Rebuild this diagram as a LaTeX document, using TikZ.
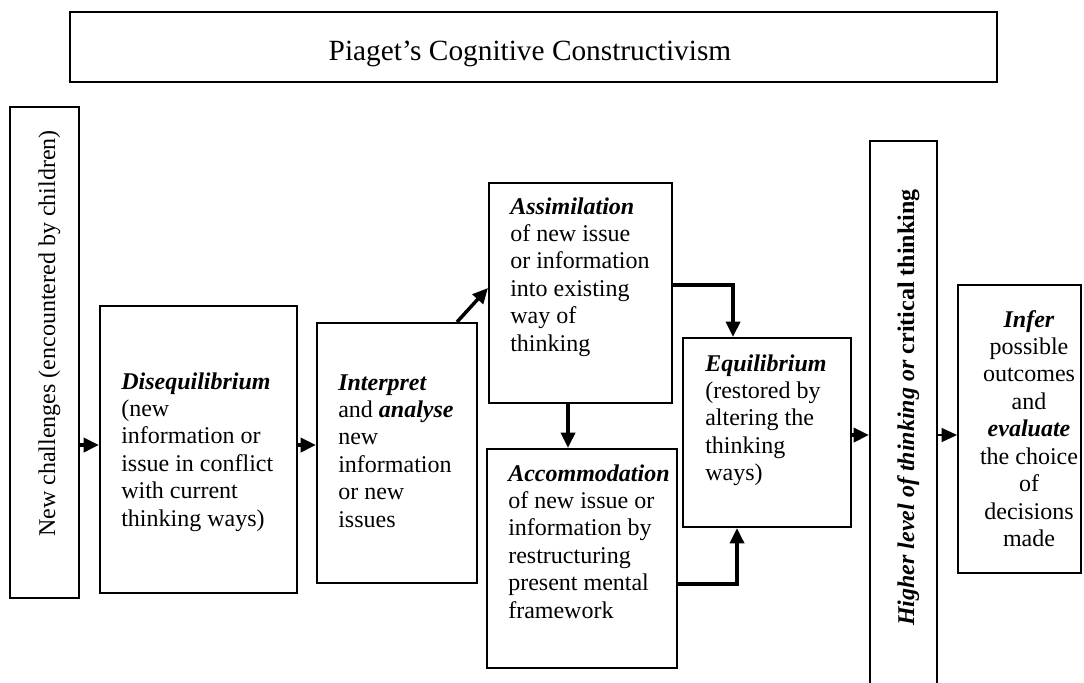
\documentclass[tikz,border=0pt]{standalone}
\usepackage{fontspec}
\setmainfont{Liberation Serif}
\usetikzlibrary{arrows.meta,fit}

% stacked lines of text; the baseline of the block is that of its first line
\newcommand{\stackedlines}[2][l]{\begin{tabular}[t]{@{}#1@{}}#2\end{tabular}}
\newcommand{\keyword}[1]{\textbf{\textit{#1}}}

\begin{document}
\begin{tikzpicture}[x=0.75pt,y=-0.75pt,
  box/.style={draw, line width=1.5pt, inner sep=0pt},
  conn/.style={line width=2.6pt, -{Triangle[length=11.5pt,width=10.5pt]}},
  thinconn/.style={line width=1pt, -{Triangle[length=11.5pt,width=10.5pt]}},
  body/.style={inner sep=0pt, anchor=base west, font=\fontsize{18}{20.6}\selectfont},
  bodyc/.style={body, anchor=base},
]
\useasboundingbox (0,0) rectangle (1084,682);

% title
\node[box, fit={(70,12) (997,82)}] (title) {};
\node[inner sep=0pt, anchor=base, font=\fontsize{22}{26}\selectfont] (titletext) at (530,60) {Piaget’s Cognitive Constructivism};

% boxes
\node[box, fit={(10,107) (79,598)}] (newc) {};
\node[box, fit={(100,306) (297,593)}] (dis) {};
\node[box, fit={(317,323) (477,583)}] (inter) {};
\node[box, fit={(489,183) (672,403)}] (assim) {};
\node[box, fit={(487,449) (677,668)}] (accom) {};
\node[box, fit={(683,338) (851,527)}] (equi) {};
\node[box, fit={(870,141) (937,690)}] (higher) {};
\node[box, fit={(958,285) (1081,573)}] (infer) {};

% texts
\node[body, rotate=90] (newctext) at (55,537) {New challenges (encountered by children)};
\node[body] (distext) at (121,389) {\stackedlines{\keyword{Disequilibrium}\\ (new\\ information or\\ issue in conflict\\ with current\\ thinking ways)}};
\node[body] (intertext) at (338,390) {\stackedlines{\keyword{Interpret}\\ and \keyword{analyse}\\ new\\ information\\ or new\\ issues}};
\node[body] (assimtext) at (510,214) {\stackedlines{\keyword{Assimilation}\\ of new issue\\ or information\\ into existing\\ way of\\ thinking}};
\node[body] (accomtext) at (508,481) {\stackedlines{\keyword{Accommodation}\\ of new issue or\\ information by\\ restructuring\\ present mental\\ framework}};
\node[body] (equitext) at (705,371) {\stackedlines{\keyword{Equilibrium}\\ (restored by\\ altering the\\ thinking\\ ways)}};
\node[body, rotate=90] (highertext) at (914,626) {\keyword{Higher level of thinking or} \textbf{critical thinking}};
\node[bodyc] (infertext) at (1029,327) {\stackedlines[c]{\keyword{Infer}\\ possible\\ outcomes\\ and\\ \keyword{evaluate}\\ the choice\\ of\\ decisions\\ made}};

% connectors
\draw[conn] (newc.east |- 0,445) -- (dis.west |- 0,445);
\draw[conn] (dis.east |- 0,445) -- (inter.west |- 0,445);
\draw[conn] (457,0 |- inter.north) -- (assim.west |- 0,288);
\draw[conn] (568,0 |- assim.south) -- (568,0 |- accom.north);
\draw[conn] (assim.east |- 0,285) -| (733,0 |- equi.north);
\draw[conn] (accom.east |- 0,584) -| (737,0 |- equi.south);
\draw[conn] (equi.east |- 0,435) -- (higher.west |- 0,435);
\draw[thinconn] (higher.east |- 0,435) -- (infer.west |- 0,435);
\end{tikzpicture}
\end{document}
